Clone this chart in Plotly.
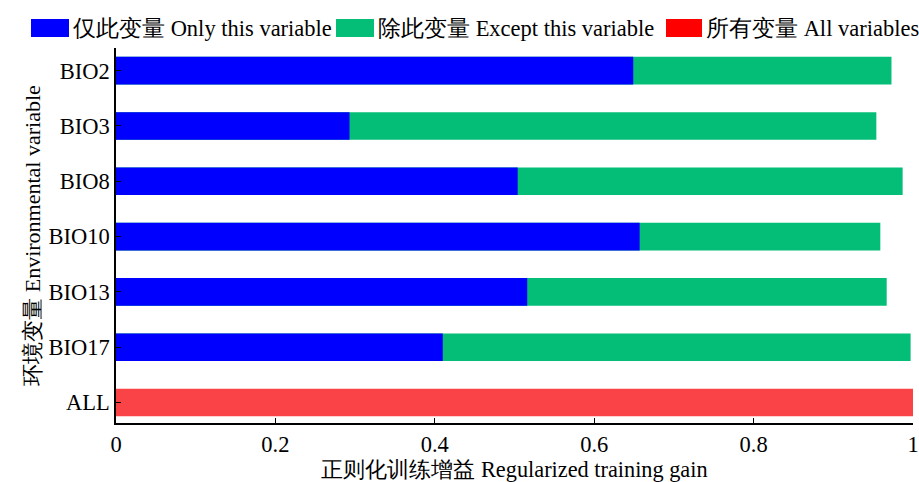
import plotly.graph_objects as go

# Jackknife of regularized training gain per environmental variable
variables = ["BIO2", "BIO3", "BIO8", "BIO10", "BIO13", "BIO17", "ALL"]
only_this = [0.649, 0.293, 0.504, 0.657, 0.516, 0.410, None]
except_this = [0.973, 0.954, 0.987, 0.959, 0.967, 0.997, None]
all_vars = [None, None, None, None, None, None, 1.0]

series_names = ["仅此变量 Only this variable", "除此变量 Except this variable", "所有变量 All variables"]
bar_colors = ["#0000ff", "#04be78", "#f94346"]
legend_colors = ["#0000ff", "#04be78", "#ff0000"]

FONT = "Times New Roman, Liberation Serif, serif"

fig = go.Figure()
# "except" bars drawn first so the "only" bars sit on top of them
for vals, color in [(except_this, bar_colors[1]), (only_this, bar_colors[0]), (all_vars, bar_colors[2])]:
    fig.add_trace(go.Bar(
        y=variables, x=vals, orientation="h", width=0.5,
        marker=dict(color=color, line=dict(width=0)),
        showlegend=False,
    ))

# Legend row across the top (pixel positions converted to paper units)
L, R, T, B = 116, 913, 48, 423
PW, PH = R - L, B - T
legend_layout = [(31, 69), (336, 374), (666, 702)]
for (x0, x1), name, color in zip(legend_layout, series_names, legend_colors):
    fig.add_shape(type="rect", xref="paper", yref="paper",
                  x0=(x0 - L) / PW, x1=(x1 - L) / PW,
                  y0=(B - 37) / PH, y1=(B - 19) / PH,
                  fillcolor=color, line=dict(width=0))
    fig.add_annotation(xref="paper", yref="paper", x=(x1 + 2 - L) / PW, y=(B - 28) / PH,
                       text=name, showarrow=False, xanchor="left", yanchor="middle",
                       font=dict(family=FONT, size=22.5, color="#000"))

fig.update_layout(
    width=919, height=482,
    margin=dict(l=L, r=919 - R, t=T, b=482 - B, autoexpand=False),
    barmode="overlay",
    plot_bgcolor="white", paper_bgcolor="white",
    font=dict(family=FONT, size=22.5, color="#000"),
    xaxis=dict(
        range=[0, 1], tickvals=[0, 0.2, 0.4, 0.6, 0.8, 1], ticktext=["0", "0.2", "0.4", "0.6", "0.8", "1"],
        showline=True, linecolor="#000", linewidth=1.5, ticks="inside", ticklen=5, tickcolor="#000",
        showgrid=False, zeroline=False, automargin=False,
        title=dict(text="正则化训练增益 Regularized training gain", standoff=2, font=dict(size=22.3)),
    ),
    yaxis=dict(
        type="category", categoryorder="array", categoryarray=variables,
        range=[6.37, -0.41],
        showline=True, linecolor="#000", linewidth=1.5, ticks="inside", ticklen=5, tickcolor="#000",
        showgrid=False, zeroline=False, automargin=False,
        title=dict(text="环境变量 Environmental variable", standoff=2, font=dict(size=22)),
    ),
)

fig.write_html("out.html")
